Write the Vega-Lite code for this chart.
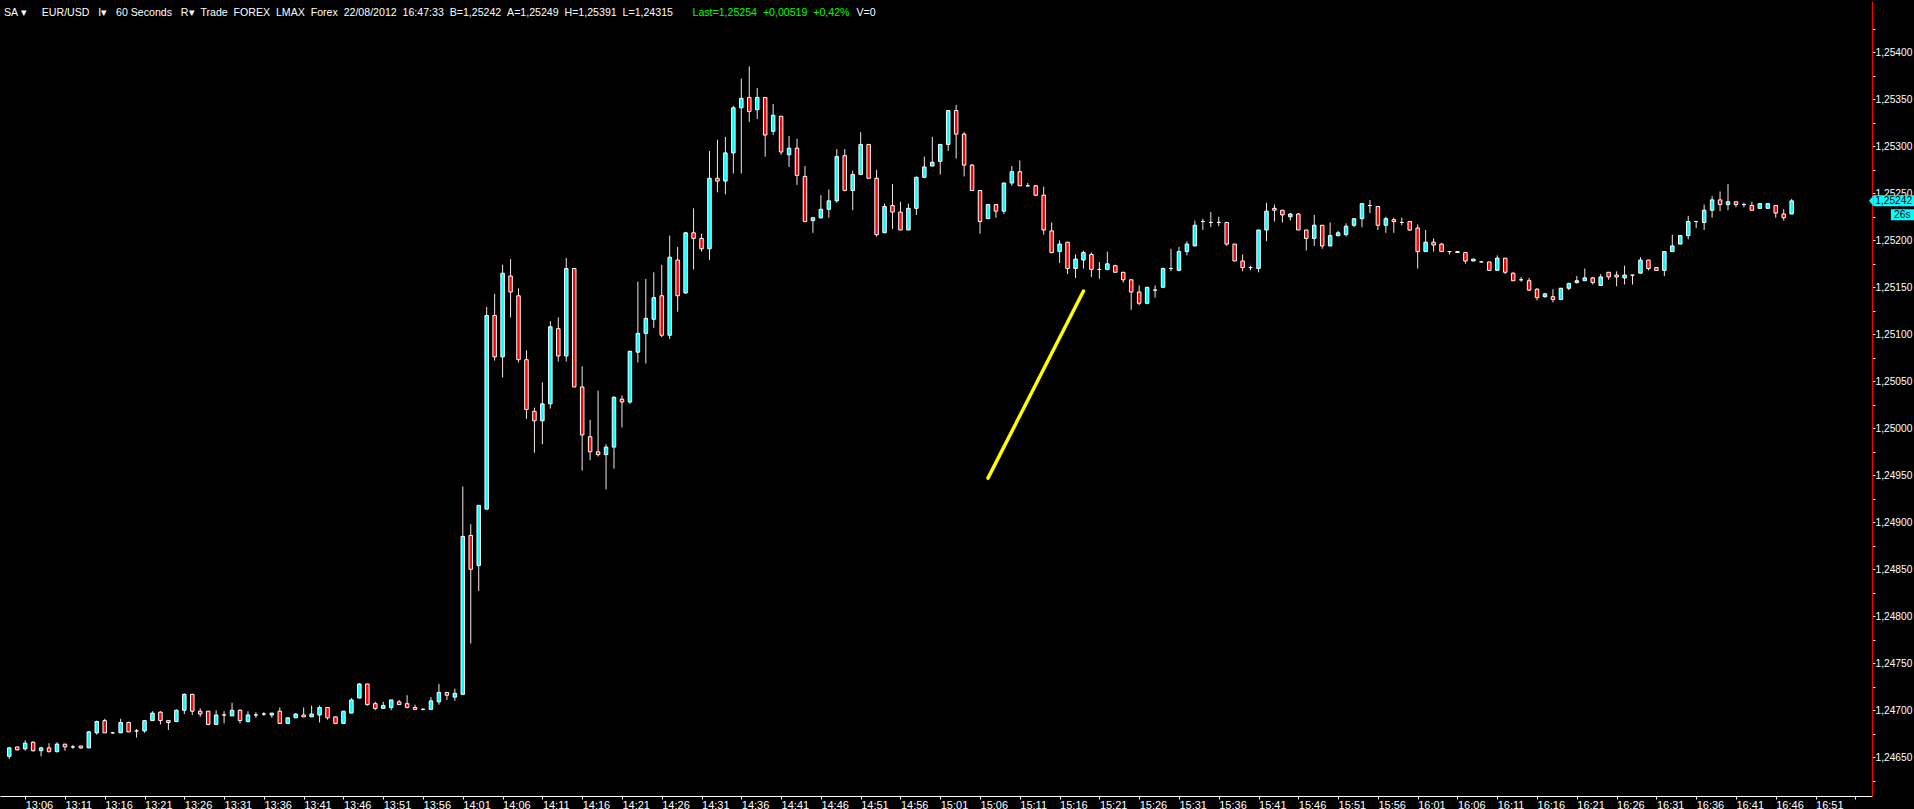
{
  "$schema": "https://vega.github.io/schema/vega-lite/v6.json",
  "width": 1872,
  "height": 795,
  "autosize": {"type": "none"},
  "padding": {"left": 0, "top": 1, "right": 42, "bottom": 13},
  "background": "#000000",
  "config": {"view": {"stroke": null}},
  "title": {
    "text": "SA\u00a0▾\u00a0\u00a0\u00a0\u00a0\u00a0EUR/USD\u00a0\u00a0\u00a0I▾\u00a0\u00a0\u00a060 Seconds\u00a0\u00a0\u00a0R▾\u00a0\u00a0Trade\u00a0\u00a0FOREX\u00a0\u00a0LMAX\u00a0\u00a0Forex\u00a0\u00a022/08/2012\u00a0\u00a016:47:33\u00a0\u00a0B=1,25242\u00a0\u00a0A=1,25249\u00a0\u00a0H=1,25391\u00a0\u00a0L=1,24315",
    "anchor": "start",
    "offset": -26,
    "dx": 4,
    "baseline": "alphabetic",
    "color": "#ffffff",
    "font": "Liberation Sans",
    "fontSize": 10.6,
    "fontWeight": "normal"
  },
  "resolve": {"axis": {"x": "independent", "y": "independent"}},
  "data": {
    "format": {"parse": {"t": "utc:'%H:%M'"}},
    "values": [
      {"t":"13:04","o":1.24651,"h":1.24661,"l":1.24648,"c":1.2466},
      {"t":"13:05","o":1.24661,"h":1.24661,"l":1.24657,"c":1.24658},
      {"t":"13:06","o":1.24659,"h":1.24668,"l":1.24657,"c":1.24665},
      {"t":"13:07","o":1.24666,"h":1.24667,"l":1.24656,"c":1.24657},
      {"t":"13:08","o":1.24657,"h":1.24661,"l":1.24651,"c":1.2466},
      {"t":"13:09","o":1.2466,"h":1.24665,"l":1.24655,"c":1.24656},
      {"t":"13:10","o":1.24656,"h":1.24666,"l":1.24655,"c":1.24664},
      {"t":"13:11","o":1.24664,"h":1.24664,"l":1.24657,"c":1.24661},
      {"t":"13:12","o":1.24661,"h":1.24663,"l":1.24659,"c":1.24661},
      {"t":"13:13","o":1.24662,"h":1.24662,"l":1.24659,"c":1.2466},
      {"t":"13:14","o":1.2466,"h":1.24678,"l":1.2466,"c":1.24677},
      {"t":"13:15","o":1.24676,"h":1.24689,"l":1.24674,"c":1.24688},
      {"t":"13:16","o":1.24689,"h":1.24691,"l":1.24676,"c":1.24676},
      {"t":"13:17","o":1.24676,"h":1.24677,"l":1.24675,"c":1.24676},
      {"t":"13:18","o":1.24676,"h":1.24691,"l":1.24676,"c":1.24687},
      {"t":"13:19","o":1.24687,"h":1.24688,"l":1.24677,"c":1.24677},
      {"t":"13:20","o":1.24678,"h":1.2468,"l":1.24671,"c":1.24678},
      {"t":"13:21","o":1.24678,"h":1.24689,"l":1.24676,"c":1.24689},
      {"t":"13:22","o":1.24689,"h":1.24699,"l":1.24689,"c":1.24697},
      {"t":"13:23","o":1.24698,"h":1.24699,"l":1.24685,"c":1.24689},
      {"t":"13:24","o":1.24689,"h":1.24689,"l":1.24679,"c":1.24687},
      {"t":"13:25","o":1.24688,"h":1.24701,"l":1.24688,"c":1.247},
      {"t":"13:26","o":1.247,"h":1.24718,"l":1.24696,"c":1.24717},
      {"t":"13:27","o":1.24717,"h":1.24717,"l":1.24695,"c":1.24699},
      {"t":"13:28","o":1.24699,"h":1.24702,"l":1.24693,"c":1.24696},
      {"t":"13:29","o":1.24699,"h":1.24699,"l":1.24684,"c":1.24685},
      {"t":"13:30","o":1.24685,"h":1.247,"l":1.24685,"c":1.24695},
      {"t":"13:31","o":1.24695,"h":1.24699,"l":1.24686,"c":1.24695},
      {"t":"13:32","o":1.24694,"h":1.24708,"l":1.24694,"c":1.247},
      {"t":"13:33","o":1.247,"h":1.24701,"l":1.24686,"c":1.24689},
      {"t":"13:34","o":1.24688,"h":1.24699,"l":1.24687,"c":1.24695},
      {"t":"13:35","o":1.24695,"h":1.24698,"l":1.24692,"c":1.24695},
      {"t":"13:36","o":1.24696,"h":1.24698,"l":1.24694,"c":1.24696},
      {"t":"13:37","o":1.24695,"h":1.24697,"l":1.24692,"c":1.24697},
      {"t":"13:38","o":1.24699,"h":1.24703,"l":1.24686,"c":1.24686},
      {"t":"13:39","o":1.24686,"h":1.24692,"l":1.24686,"c":1.24692},
      {"t":"13:40","o":1.24692,"h":1.24697,"l":1.24692,"c":1.24696},
      {"t":"13:41","o":1.24695,"h":1.24703,"l":1.24693,"c":1.24693},
      {"t":"13:42","o":1.24693,"h":1.24705,"l":1.24693,"c":1.24696},
      {"t":"13:43","o":1.24695,"h":1.24705,"l":1.24687,"c":1.24703},
      {"t":"13:44","o":1.24703,"h":1.24703,"l":1.2469,"c":1.24692},
      {"t":"13:45","o":1.24693,"h":1.24693,"l":1.24686,"c":1.24686},
      {"t":"13:46","o":1.24686,"h":1.24699,"l":1.24686,"c":1.24699},
      {"t":"13:47","o":1.24697,"h":1.24713,"l":1.24697,"c":1.24711},
      {"t":"13:48","o":1.24713,"h":1.24729,"l":1.24713,"c":1.24728},
      {"t":"13:49","o":1.24728,"h":1.24728,"l":1.24705,"c":1.24706},
      {"t":"13:50","o":1.24707,"h":1.24709,"l":1.247,"c":1.24702},
      {"t":"13:51","o":1.24702,"h":1.24709,"l":1.24702,"c":1.24705},
      {"t":"13:52","o":1.24703,"h":1.24711,"l":1.247,"c":1.24711},
      {"t":"13:53","o":1.24709,"h":1.24711,"l":1.24706,"c":1.24706},
      {"t":"13:54","o":1.24707,"h":1.24716,"l":1.24702,"c":1.24703},
      {"t":"13:55","o":1.24703,"h":1.24706,"l":1.24701,"c":1.24701},
      {"t":"13:56","o":1.24701,"h":1.24702,"l":1.247,"c":1.24701},
      {"t":"13:57","o":1.24701,"h":1.24714,"l":1.24701,"c":1.2471},
      {"t":"13:58","o":1.24709,"h":1.24728,"l":1.24706,"c":1.24719},
      {"t":"13:59","o":1.24719,"h":1.24719,"l":1.24711,"c":1.24716},
      {"t":"14:00","o":1.24714,"h":1.24723,"l":1.2471,"c":1.24718},
      {"t":"14:01","o":1.24717,"h":1.24938,"l":1.24716,"c":1.24885},
      {"t":"14:02","o":1.24886,"h":1.24898,"l":1.24771,"c":1.2485},
      {"t":"14:03","o":1.24854,"h":1.24918,"l":1.24827,"c":1.24918},
      {"t":"14:04","o":1.24914,"h":1.25129,"l":1.24914,"c":1.2512},
      {"t":"14:05","o":1.2512,"h":1.25143,"l":1.25072,"c":1.25076},
      {"t":"14:06","o":1.25076,"h":1.25174,"l":1.25054,"c":1.25165},
      {"t":"14:07","o":1.25162,"h":1.2518,"l":1.25118,"c":1.25145},
      {"t":"14:08","o":1.25141,"h":1.25149,"l":1.2507,"c":1.25073},
      {"t":"14:09","o":1.25073,"h":1.25083,"l":1.2501,"c":1.2502},
      {"t":"14:10","o":1.25018,"h":1.25022,"l":1.24974,"c":1.25008},
      {"t":"14:11","o":1.25008,"h":1.25049,"l":1.24983,"c":1.25026},
      {"t":"14:12","o":1.25026,"h":1.25114,"l":1.25021,"c":1.25108},
      {"t":"14:13","o":1.25106,"h":1.25118,"l":1.25071,"c":1.25077},
      {"t":"14:14","o":1.25077,"h":1.25181,"l":1.25071,"c":1.2517},
      {"t":"14:15","o":1.2517,"h":1.2517,"l":1.25044,"c":1.25044},
      {"t":"14:16","o":1.25044,"h":1.25066,"l":1.24955,"c":1.24993},
      {"t":"14:17","o":1.24991,"h":1.25009,"l":1.24966,"c":1.24975},
      {"t":"14:18","o":1.24975,"h":1.2504,"l":1.2497,"c":1.24972},
      {"t":"14:19","o":1.24972,"h":1.24983,"l":1.24935,"c":1.2498},
      {"t":"14:20","o":1.2498,"h":1.25034,"l":1.24957,"c":1.25033},
      {"t":"14:21","o":1.25031,"h":1.25035,"l":1.25001,"c":1.25028},
      {"t":"14:22","o":1.25028,"h":1.25082,"l":1.25026,"c":1.25082},
      {"t":"14:23","o":1.25081,"h":1.25156,"l":1.2507,"c":1.25101},
      {"t":"14:24","o":1.25101,"h":1.25159,"l":1.25069,"c":1.25117},
      {"t":"14:25","o":1.25116,"h":1.25166,"l":1.25107,"c":1.25139},
      {"t":"14:26","o":1.25141,"h":1.25174,"l":1.25097,"c":1.25099},
      {"t":"14:27","o":1.25099,"h":1.25205,"l":1.25095,"c":1.25182},
      {"t":"14:28","o":1.25179,"h":1.25193,"l":1.25124,"c":1.25141},
      {"t":"14:29","o":1.25144,"h":1.25209,"l":1.25143,"c":1.25208},
      {"t":"14:30","o":1.25208,"h":1.25234,"l":1.25169,"c":1.25202},
      {"t":"14:31","o":1.25202,"h":1.25207,"l":1.25188,"c":1.25191},
      {"t":"14:32","o":1.25191,"h":1.25295,"l":1.25179,"c":1.25266},
      {"t":"14:33","o":1.25266,"h":1.25307,"l":1.25251,"c":1.25263},
      {"t":"14:34","o":1.25263,"h":1.2531,"l":1.25249,"c":1.25293},
      {"t":"14:35","o":1.25293,"h":1.25343,"l":1.25271,"c":1.25341},
      {"t":"14:36","o":1.25341,"h":1.25372,"l":1.25271,"c":1.25351},
      {"t":"14:37","o":1.25352,"h":1.25385,"l":1.25326,"c":1.25337},
      {"t":"14:38","o":1.25339,"h":1.25362,"l":1.25329,"c":1.25352},
      {"t":"14:39","o":1.25352,"h":1.25352,"l":1.25289,"c":1.25312},
      {"t":"14:40","o":1.25316,"h":1.25345,"l":1.25312,"c":1.25333},
      {"t":"14:41","o":1.25332,"h":1.25332,"l":1.25291,"c":1.25294},
      {"t":"14:42","o":1.25291,"h":1.25311,"l":1.25278,"c":1.25298},
      {"t":"14:43","o":1.25298,"h":1.25308,"l":1.25259,"c":1.25269},
      {"t":"14:44","o":1.25268,"h":1.25279,"l":1.25219,"c":1.2522},
      {"t":"14:45","o":1.25221,"h":1.25224,"l":1.25208,"c":1.25224},
      {"t":"14:46","o":1.25224,"h":1.25248,"l":1.25223,"c":1.25233},
      {"t":"14:47","o":1.25233,"h":1.25254,"l":1.25224,"c":1.25242},
      {"t":"14:48","o":1.25242,"h":1.25297,"l":1.2524,"c":1.25289},
      {"t":"14:49","o":1.2529,"h":1.25297,"l":1.25252,"c":1.25253},
      {"t":"14:50","o":1.25253,"h":1.25274,"l":1.25232,"c":1.2527},
      {"t":"14:51","o":1.2527,"h":1.25315,"l":1.2527,"c":1.25302},
      {"t":"14:52","o":1.25302,"h":1.25302,"l":1.25266,"c":1.25266},
      {"t":"14:53","o":1.25266,"h":1.25275,"l":1.25204,"c":1.25206},
      {"t":"14:54","o":1.25208,"h":1.25239,"l":1.25208,"c":1.25236},
      {"t":"14:55","o":1.25237,"h":1.2526,"l":1.25212,"c":1.2523},
      {"t":"14:56","o":1.2523,"h":1.25241,"l":1.25211,"c":1.25211},
      {"t":"14:57","o":1.25211,"h":1.25239,"l":1.25211,"c":1.25234},
      {"t":"14:58","o":1.25234,"h":1.25268,"l":1.25227,"c":1.25267},
      {"t":"14:59","o":1.25267,"h":1.25289,"l":1.25267,"c":1.25278},
      {"t":"15:00","o":1.25279,"h":1.2531,"l":1.25279,"c":1.25283},
      {"t":"15:01","o":1.25284,"h":1.25302,"l":1.2527,"c":1.25302},
      {"t":"15:02","o":1.25302,"h":1.25338,"l":1.25295,"c":1.25338},
      {"t":"15:03","o":1.25338,"h":1.25344,"l":1.25287,"c":1.25313},
      {"t":"15:04","o":1.25313,"h":1.25315,"l":1.25268,"c":1.2528},
      {"t":"15:05","o":1.2528,"h":1.25281,"l":1.25253,"c":1.25253},
      {"t":"15:06","o":1.25253,"h":1.25253,"l":1.25207,"c":1.2522},
      {"t":"15:07","o":1.25223,"h":1.25238,"l":1.25223,"c":1.25238},
      {"t":"15:08","o":1.25238,"h":1.25238,"l":1.25224,"c":1.25231},
      {"t":"15:09","o":1.25231,"h":1.25261,"l":1.25228,"c":1.25261},
      {"t":"15:10","o":1.25261,"h":1.25279,"l":1.25258,"c":1.25273},
      {"t":"15:11","o":1.25273,"h":1.25285,"l":1.25258,"c":1.25258},
      {"t":"15:12","o":1.25258,"h":1.25261,"l":1.25257,"c":1.25258},
      {"t":"15:13","o":1.25258,"h":1.25259,"l":1.25247,"c":1.25248},
      {"t":"15:14","o":1.25248,"h":1.25257,"l":1.25206,"c":1.25211},
      {"t":"15:15","o":1.2521,"h":1.25219,"l":1.25186,"c":1.25187},
      {"t":"15:16","o":1.25188,"h":1.252,"l":1.25176,"c":1.25196},
      {"t":"15:17","o":1.25198,"h":1.25198,"l":1.25164,"c":1.2517},
      {"t":"15:18","o":1.2517,"h":1.25185,"l":1.2516,"c":1.2518},
      {"t":"15:19","o":1.25179,"h":1.25189,"l":1.2517,"c":1.25187},
      {"t":"15:20","o":1.25185,"h":1.25187,"l":1.25161,"c":1.25169},
      {"t":"15:21","o":1.25169,"h":1.25177,"l":1.25159,"c":1.25169},
      {"t":"15:22","o":1.25169,"h":1.25188,"l":1.25168,"c":1.25175},
      {"t":"15:23","o":1.25173,"h":1.25174,"l":1.25166,"c":1.25166},
      {"t":"15:24","o":1.25166,"h":1.25166,"l":1.25155,"c":1.25158},
      {"t":"15:25","o":1.25158,"h":1.25158,"l":1.25126,"c":1.25145},
      {"t":"15:26","o":1.25145,"h":1.25152,"l":1.25131,"c":1.25133},
      {"t":"15:27","o":1.25133,"h":1.2515,"l":1.25132,"c":1.2515},
      {"t":"15:28","o":1.25147,"h":1.25152,"l":1.25139,"c":1.25147},
      {"t":"15:29","o":1.2515,"h":1.25171,"l":1.2515,"c":1.2517},
      {"t":"15:30","o":1.2517,"h":1.25191,"l":1.25167,"c":1.2517},
      {"t":"15:31","o":1.25168,"h":1.25193,"l":1.25167,"c":1.25188},
      {"t":"15:32","o":1.25188,"h":1.25199,"l":1.25184,"c":1.25196},
      {"t":"15:33","o":1.25194,"h":1.25221,"l":1.25194,"c":1.25216},
      {"t":"15:34","o":1.2522,"h":1.25223,"l":1.25211,"c":1.2522},
      {"t":"15:35","o":1.25219,"h":1.2523,"l":1.25214,"c":1.25219},
      {"t":"15:36","o":1.25219,"h":1.25225,"l":1.25215,"c":1.25219},
      {"t":"15:37","o":1.25219,"h":1.25219,"l":1.25194,"c":1.25196},
      {"t":"15:38","o":1.25196,"h":1.25196,"l":1.25178,"c":1.25178},
      {"t":"15:39","o":1.25178,"h":1.25185,"l":1.25167,"c":1.25171},
      {"t":"15:40","o":1.25171,"h":1.25173,"l":1.25168,"c":1.25171},
      {"t":"15:41","o":1.2517,"h":1.25211,"l":1.25166,"c":1.25211},
      {"t":"15:42","o":1.25211,"h":1.2524,"l":1.25199,"c":1.25231},
      {"t":"15:43","o":1.25234,"h":1.25238,"l":1.2522,"c":1.25232},
      {"t":"15:44","o":1.25232,"h":1.25232,"l":1.25219,"c":1.25227},
      {"t":"15:45","o":1.25225,"h":1.25229,"l":1.25221,"c":1.25228},
      {"t":"15:46","o":1.25228,"h":1.25229,"l":1.25211,"c":1.25211},
      {"t":"15:47","o":1.25211,"h":1.25211,"l":1.25189,"c":1.25202},
      {"t":"15:48","o":1.25202,"h":1.25227,"l":1.25194,"c":1.25216},
      {"t":"15:49","o":1.25216,"h":1.25216,"l":1.25191,"c":1.25194},
      {"t":"15:50","o":1.25194,"h":1.25219,"l":1.25194,"c":1.25205},
      {"t":"15:51","o":1.25205,"h":1.2521,"l":1.25204,"c":1.25208},
      {"t":"15:52","o":1.25206,"h":1.25218,"l":1.25204,"c":1.25215},
      {"t":"15:53","o":1.25216,"h":1.25223,"l":1.25214,"c":1.25223},
      {"t":"15:54","o":1.25223,"h":1.25239,"l":1.25214,"c":1.25239},
      {"t":"15:55","o":1.25237,"h":1.25243,"l":1.25229,"c":1.25237},
      {"t":"15:56","o":1.25236,"h":1.25236,"l":1.25211,"c":1.25216},
      {"t":"15:57","o":1.25216,"h":1.25225,"l":1.25208,"c":1.25223},
      {"t":"15:58","o":1.25222,"h":1.25224,"l":1.25208,"c":1.2522},
      {"t":"15:59","o":1.25219,"h":1.25224,"l":1.25216,"c":1.25219},
      {"t":"16:00","o":1.2522,"h":1.2522,"l":1.2521,"c":1.25211},
      {"t":"16:01","o":1.25213,"h":1.25217,"l":1.2517,"c":1.25188},
      {"t":"16:02","o":1.25188,"h":1.25211,"l":1.25188,"c":1.25198},
      {"t":"16:03","o":1.25198,"h":1.25202,"l":1.25188,"c":1.25195},
      {"t":"16:04","o":1.25196,"h":1.25197,"l":1.25188,"c":1.25188},
      {"t":"16:05","o":1.25188,"h":1.25188,"l":1.25185,"c":1.25188},
      {"t":"16:06","o":1.25188,"h":1.25188,"l":1.25187,"c":1.25187},
      {"t":"16:07","o":1.25187,"h":1.25187,"l":1.25175,"c":1.25178},
      {"t":"16:08","o":1.25178,"h":1.2518,"l":1.25178,"c":1.2518},
      {"t":"16:09","o":1.25177,"h":1.25178,"l":1.25177,"c":1.25177},
      {"t":"16:10","o":1.25177,"h":1.25177,"l":1.25168,"c":1.25168},
      {"t":"16:11","o":1.25168,"h":1.25184,"l":1.25168,"c":1.25181},
      {"t":"16:12","o":1.25181,"h":1.25181,"l":1.25164,"c":1.25166},
      {"t":"16:13","o":1.25165,"h":1.25166,"l":1.25157,"c":1.25157},
      {"t":"16:14","o":1.25158,"h":1.25161,"l":1.25156,"c":1.25158},
      {"t":"16:15","o":1.25157,"h":1.2516,"l":1.25146,"c":1.25147},
      {"t":"16:16","o":1.25148,"h":1.25149,"l":1.25136,"c":1.25139},
      {"t":"16:17","o":1.2514,"h":1.25144,"l":1.25139,"c":1.25143},
      {"t":"16:18","o":1.2514,"h":1.25148,"l":1.25134,"c":1.25137},
      {"t":"16:19","o":1.25137,"h":1.25149,"l":1.25137,"c":1.25149},
      {"t":"16:20","o":1.25149,"h":1.25155,"l":1.25147,"c":1.25154},
      {"t":"16:21","o":1.25155,"h":1.25162,"l":1.25154,"c":1.25157},
      {"t":"16:22","o":1.25157,"h":1.2517,"l":1.25157,"c":1.2516},
      {"t":"16:23","o":1.2516,"h":1.25161,"l":1.25153,"c":1.25155},
      {"t":"16:24","o":1.25152,"h":1.25164,"l":1.25152,"c":1.25161},
      {"t":"16:25","o":1.25166,"h":1.25166,"l":1.25158,"c":1.25161},
      {"t":"16:26","o":1.25163,"h":1.25167,"l":1.25151,"c":1.25161},
      {"t":"16:27","o":1.2516,"h":1.25173,"l":1.25153,"c":1.25163},
      {"t":"16:28","o":1.25163,"h":1.25163,"l":1.25153,"c":1.25163},
      {"t":"16:29","o":1.25165,"h":1.25182,"l":1.25165,"c":1.25179},
      {"t":"16:30","o":1.25179,"h":1.25179,"l":1.25168,"c":1.2517},
      {"t":"16:31","o":1.25171,"h":1.25171,"l":1.25168,"c":1.25168},
      {"t":"16:32","o":1.25168,"h":1.25188,"l":1.25162,"c":1.25188},
      {"t":"16:33","o":1.25188,"h":1.25206,"l":1.25188,"c":1.25194},
      {"t":"16:34","o":1.25196,"h":1.25205,"l":1.25196,"c":1.25205},
      {"t":"16:35","o":1.25205,"h":1.25226,"l":1.25201,"c":1.2522},
      {"t":"16:36","o":1.2522,"h":1.2522,"l":1.25213,"c":1.2522},
      {"t":"16:37","o":1.25219,"h":1.25238,"l":1.25211,"c":1.25232},
      {"t":"16:38","o":1.25232,"h":1.25247,"l":1.25224,"c":1.25243},
      {"t":"16:39","o":1.25243,"h":1.25252,"l":1.25231,"c":1.25238},
      {"t":"16:40","o":1.25238,"h":1.2526,"l":1.25232,"c":1.25241},
      {"t":"16:41","o":1.25241,"h":1.25241,"l":1.25235,"c":1.25238},
      {"t":"16:42","o":1.25238,"h":1.2524,"l":1.25235,"c":1.25238},
      {"t":"16:43","o":1.25237,"h":1.25241,"l":1.25232,"c":1.25232},
      {"t":"16:44","o":1.25234,"h":1.25239,"l":1.25234,"c":1.25239},
      {"t":"16:45","o":1.25234,"h":1.25239,"l":1.25234,"c":1.25239},
      {"t":"16:46","o":1.25237,"h":1.25237,"l":1.25224,"c":1.25229},
      {"t":"16:47","o":1.25228,"h":1.25233,"l":1.25221,"c":1.25224},
      {"t":"16:48","o":1.25228,"h":1.25244,"l":1.25228,"c":1.25242}
    ]
  },
  "layer": [
    {
      "mark": {"type": "rule", "color": "#f6e6e6", "strokeWidth": 1},
      "encoding": {
        "x": {
          "field": "t", "type": "temporal",
          "scale": {"type": "utc", "domain": [
            {"year": 1900, "month": 1, "date": 1, "hours": 13, "minutes": 3, "seconds": 28, "utc": true},
            {"year": 1900, "month": 1, "date": 1, "hours": 16, "minutes": 57, "seconds": 28, "utc": true}]},
          "axis": {
            "orient": "bottom",
            "values": [
              {"year":1900,"month":1,"date":1,"hours":13,"minutes":6,"utc":true},
              {"year":1900,"month":1,"date":1,"hours":13,"minutes":11,"utc":true},
              {"year":1900,"month":1,"date":1,"hours":13,"minutes":16,"utc":true},
              {"year":1900,"month":1,"date":1,"hours":13,"minutes":21,"utc":true},
              {"year":1900,"month":1,"date":1,"hours":13,"minutes":26,"utc":true},
              {"year":1900,"month":1,"date":1,"hours":13,"minutes":31,"utc":true},
              {"year":1900,"month":1,"date":1,"hours":13,"minutes":36,"utc":true},
              {"year":1900,"month":1,"date":1,"hours":13,"minutes":41,"utc":true},
              {"year":1900,"month":1,"date":1,"hours":13,"minutes":46,"utc":true},
              {"year":1900,"month":1,"date":1,"hours":13,"minutes":51,"utc":true},
              {"year":1900,"month":1,"date":1,"hours":13,"minutes":56,"utc":true},
              {"year":1900,"month":1,"date":1,"hours":14,"minutes":1,"utc":true},
              {"year":1900,"month":1,"date":1,"hours":14,"minutes":6,"utc":true},
              {"year":1900,"month":1,"date":1,"hours":14,"minutes":11,"utc":true},
              {"year":1900,"month":1,"date":1,"hours":14,"minutes":16,"utc":true},
              {"year":1900,"month":1,"date":1,"hours":14,"minutes":21,"utc":true},
              {"year":1900,"month":1,"date":1,"hours":14,"minutes":26,"utc":true},
              {"year":1900,"month":1,"date":1,"hours":14,"minutes":31,"utc":true},
              {"year":1900,"month":1,"date":1,"hours":14,"minutes":36,"utc":true},
              {"year":1900,"month":1,"date":1,"hours":14,"minutes":41,"utc":true},
              {"year":1900,"month":1,"date":1,"hours":14,"minutes":46,"utc":true},
              {"year":1900,"month":1,"date":1,"hours":14,"minutes":51,"utc":true},
              {"year":1900,"month":1,"date":1,"hours":14,"minutes":56,"utc":true},
              {"year":1900,"month":1,"date":1,"hours":15,"minutes":1,"utc":true},
              {"year":1900,"month":1,"date":1,"hours":15,"minutes":6,"utc":true},
              {"year":1900,"month":1,"date":1,"hours":15,"minutes":11,"utc":true},
              {"year":1900,"month":1,"date":1,"hours":15,"minutes":16,"utc":true},
              {"year":1900,"month":1,"date":1,"hours":15,"minutes":21,"utc":true},
              {"year":1900,"month":1,"date":1,"hours":15,"minutes":26,"utc":true},
              {"year":1900,"month":1,"date":1,"hours":15,"minutes":31,"utc":true},
              {"year":1900,"month":1,"date":1,"hours":15,"minutes":36,"utc":true},
              {"year":1900,"month":1,"date":1,"hours":15,"minutes":41,"utc":true},
              {"year":1900,"month":1,"date":1,"hours":15,"minutes":46,"utc":true},
              {"year":1900,"month":1,"date":1,"hours":15,"minutes":51,"utc":true},
              {"year":1900,"month":1,"date":1,"hours":15,"minutes":56,"utc":true},
              {"year":1900,"month":1,"date":1,"hours":16,"minutes":1,"utc":true},
              {"year":1900,"month":1,"date":1,"hours":16,"minutes":6,"utc":true},
              {"year":1900,"month":1,"date":1,"hours":16,"minutes":11,"utc":true},
              {"year":1900,"month":1,"date":1,"hours":16,"minutes":16,"utc":true},
              {"year":1900,"month":1,"date":1,"hours":16,"minutes":21,"utc":true},
              {"year":1900,"month":1,"date":1,"hours":16,"minutes":26,"utc":true},
              {"year":1900,"month":1,"date":1,"hours":16,"minutes":31,"utc":true},
              {"year":1900,"month":1,"date":1,"hours":16,"minutes":36,"utc":true},
              {"year":1900,"month":1,"date":1,"hours":16,"minutes":41,"utc":true},
              {"year":1900,"month":1,"date":1,"hours":16,"minutes":46,"utc":true},
              {"year":1900,"month":1,"date":1,"hours":16,"minutes":51,"utc":true},
              {"year":1900,"month":1,"date":1,"hours":16,"minutes":56,"utc":true}
            ],
            "labelExpr": "utcFormat(datum.value, '%H:%M') == '16:56' ? '' : utcFormat(datum.value, '%H:%M')",
            "labelAlign": "left",
            "labelBaseline": "top",
            "labelPadding": 0,
            "labelColor": "#ffffff",
            "labelFont": "Liberation Sans",
            "labelFontSize": 11,
            "labelOverlap": false,
            "labelFlush": false,
            "labelBound": false,
            "tickColor": "#ffffff",
            "tickSize": 3,
            "domainColor": "#ffffff",
            "domainWidth": 1,
            "grid": false,
            "title": "Last=1,25254\u00a0\u00a0+0,00519\u00a0\u00a0+0,42%",
            "titleColor": "#00ff00",
            "titleFont": "Liberation Sans",
            "titleFontSize": 10.6,
            "titleFontWeight": "normal",
            "titleX": 692,
            "titleY": -781,
            "titleAlign": "left",
            "titleBaseline": "alphabetic"
          }
        },
        "y": {
          "field": "l", "type": "quantitative",
          "scale": {"domain": [1.246088, 1.254546], "zero": false, "nice": false},
          "axis": {
            "orient": "right",
            "values": [1.24625,1.2465,1.24675,1.247,1.24725,1.2475,1.24775,1.248,1.24825,1.2485,1.24875,1.249,1.24925,1.2495,1.24975,1.25,1.25025,1.2505,1.25075,1.251,1.25125,1.2515,1.25175,1.252,1.25225,1.2525,1.25275,1.253,1.25325,1.2535,1.25375,1.254,1.25425],
            "labelExpr": "round(datum.value * 100000) % 50 == 0 ? replace(format(datum.value, '.5f'), '.', ',') : ''",
            "labelAlign": "left",
            "labelBaseline": "middle",
            "labelPadding": 0,
            "labelColor": "#ffffff",
            "labelFont": "Liberation Sans",
            "labelFontSize": 10.2,
            "labelOverlap": false,
            "labelFlush": false,
            "labelBound": false,
            "tickColor": "#ffffff",
            "tickSize": 3,
            "domainColor": "#ff0000",
            "domainWidth": 1,
            "grid": false,
            "title": "V=0",
            "titleAngle": 0,
            "titleColor": "#ffffff",
            "titleFont": "Liberation Sans",
            "titleFontSize": 10.6,
            "titleFontWeight": "normal",
            "titleX": -1016,
            "titleY": 14,
            "titleAlign": "left",
            "titleBaseline": "alphabetic"
          }
        },
        "y2": {"field": "h"}
      }
    },
    {
      "mark": {"type": "bar", "size": 3.5, "stroke": "#ffffff", "strokeWidth": 1},
      "encoding": {
        "x": {"field": "t", "type": "temporal", "axis": null,
          "scale": {"type": "utc", "domain": [
            {"year": 1900, "month": 1, "date": 1, "hours": 13, "minutes": 3, "seconds": 28, "utc": true},
            {"year": 1900, "month": 1, "date": 1, "hours": 16, "minutes": 57, "seconds": 28, "utc": true}]}},
        "y": {"field": "o", "type": "quantitative", "axis": null,
          "scale": {"domain": [1.246088, 1.254546], "zero": false, "nice": false}},
        "y2": {"field": "c"},
        "fill": {"condition": {"test": "datum.c < datum.o", "value": "#ff0000"}, "value": "#00ffff"}
      }
    },
    {
      "data": {
        "format": {"parse": {"t": "utc:'%H:%M'"}},
        "values": [
          {"t": "15:07", "p": 1.24947},
          {"t": "15:19", "p": 1.25146}
        ]
      },
      "mark": {"type": "line", "color": "#ffff00", "strokeWidth": 3.5, "strokeCap": "round"},
      "encoding": {
        "x": {"field": "t", "type": "temporal", "axis": null,
          "scale": {"type": "utc", "domain": [
            {"year": 1900, "month": 1, "date": 1, "hours": 13, "minutes": 3, "seconds": 28, "utc": true},
            {"year": 1900, "month": 1, "date": 1, "hours": 16, "minutes": 57, "seconds": 28, "utc": true}]}},
        "y": {"field": "p", "type": "quantitative", "axis": null,
          "scale": {"domain": [1.246088, 1.254546], "zero": false, "nice": false}}
      }
    },
    {
      "data": {"values": [{"p": 1.25242, "label": "1,25242", "cd": "26s"}]},
      "mark": {"type": "rect", "height": 11, "color": "#00ffff"},
      "encoding": {
        "x": {"datum": {"year": 1900, "month": 1, "date": 1, "hours": 16, "minutes": 58, "seconds": 15, "utc": true}, "type": "temporal", "axis": null,
          "scale": {"type": "utc", "domain": [
            {"year": 1900, "month": 1, "date": 1, "hours": 13, "minutes": 3, "seconds": 28, "utc": true},
            {"year": 1900, "month": 1, "date": 1, "hours": 16, "minutes": 57, "seconds": 28, "utc": true}]}},
        "x2": {"datum": {"year": 1900, "month": 1, "date": 1, "hours": 17, "minutes": 10, "utc": true}},
        "y": {"field": "p", "type": "quantitative", "axis": null,
          "scale": {"domain": [1.246088, 1.254546], "zero": false, "nice": false}}
      }
    },
    {
      "data": {"values": [{"p": 1.25242, "label": "1,25242", "cd": "26s"}]},
      "mark": {"type": "point", "shape": "M -0.4 0 L 0.4 -1 L 0.4 1 Z", "size": 121, "filled": true, "color": "#00ffff", "opacity": 1},
      "encoding": {
        "x": {"datum": {"year": 1900, "month": 1, "date": 1, "hours": 16, "minutes": 58, "seconds": 0, "utc": true}, "type": "temporal", "axis": null,
          "scale": {"type": "utc", "domain": [
            {"year": 1900, "month": 1, "date": 1, "hours": 13, "minutes": 3, "seconds": 28, "utc": true},
            {"year": 1900, "month": 1, "date": 1, "hours": 16, "minutes": 57, "seconds": 28, "utc": true}]}},
        "y": {"field": "p", "type": "quantitative", "axis": null,
          "scale": {"domain": [1.246088, 1.254546], "zero": false, "nice": false}}
      }
    },
    {
      "data": {"values": [{"p": 1.25242, "label": "1,25242", "cd": "26s"}]},
      "mark": {"type": "text", "align": "left", "baseline": "middle", "color": "#000000", "font": "Liberation Sans", "fontSize": 10.2},
      "encoding": {
        "x": {"datum": {"year": 1900, "month": 1, "date": 1, "hours": 16, "minutes": 58, "seconds": 30, "utc": true}, "type": "temporal", "axis": null,
          "scale": {"type": "utc", "domain": [
            {"year": 1900, "month": 1, "date": 1, "hours": 13, "minutes": 3, "seconds": 28, "utc": true},
            {"year": 1900, "month": 1, "date": 1, "hours": 16, "minutes": 57, "seconds": 28, "utc": true}]}},
        "y": {"field": "p", "type": "quantitative", "axis": null,
          "scale": {"domain": [1.246088, 1.254546], "zero": false, "nice": false}},
        "text": {"field": "label"}
      }
    },
    {
      "data": {"values": [{"p": 1.25242, "label": "1,25242", "cd": "26s"}]},
      "mark": {"type": "rect", "height": 11, "yOffset": 14, "color": "#00ffff"},
      "encoding": {
        "x": {"datum": {"year": 1900, "month": 1, "date": 1, "hours": 17, "minutes": 0, "seconds": 28, "utc": true}, "type": "temporal", "axis": null,
          "scale": {"type": "utc", "domain": [
            {"year": 1900, "month": 1, "date": 1, "hours": 13, "minutes": 3, "seconds": 28, "utc": true},
            {"year": 1900, "month": 1, "date": 1, "hours": 16, "minutes": 57, "seconds": 28, "utc": true}]}},
        "x2": {"datum": {"year": 1900, "month": 1, "date": 1, "hours": 17, "minutes": 10, "utc": true}},
        "y": {"field": "p", "type": "quantitative", "axis": null,
          "scale": {"domain": [1.246088, 1.254546], "zero": false, "nice": false}}
      }
    },
    {
      "data": {"values": [{"p": 1.25242, "label": "1,25242", "cd": "26s"}]},
      "mark": {"type": "text", "align": "left", "baseline": "middle", "dy": 14, "color": "#000000", "font": "Liberation Sans", "fontSize": 10.2},
      "encoding": {
        "x": {"datum": {"year": 1900, "month": 1, "date": 1, "hours": 17, "minutes": 0, "seconds": 52, "utc": true}, "type": "temporal", "axis": null,
          "scale": {"type": "utc", "domain": [
            {"year": 1900, "month": 1, "date": 1, "hours": 13, "minutes": 3, "seconds": 28, "utc": true},
            {"year": 1900, "month": 1, "date": 1, "hours": 16, "minutes": 57, "seconds": 28, "utc": true}]}},
        "y": {"field": "p", "type": "quantitative", "axis": null,
          "scale": {"domain": [1.246088, 1.254546], "zero": false, "nice": false}},
        "text": {"field": "cd"}
      }
    }
  ]
}
